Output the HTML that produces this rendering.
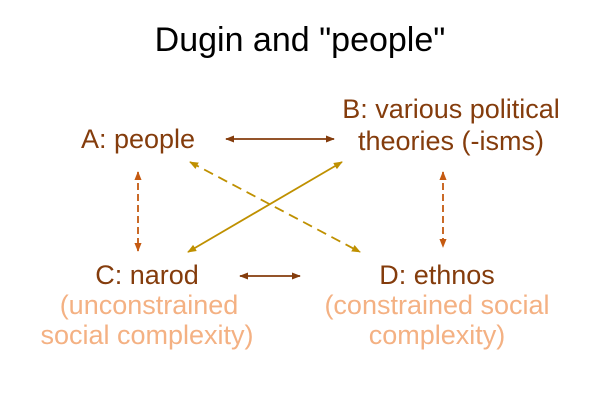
<!DOCTYPE html>
<html><head><style>
body{margin:0;background:#fff;}
svg{display:block;font-family:"Liberation Sans",Arial,sans-serif;}
</style></head><body>
<svg width="600" height="400" viewBox="0 0 600 400">
<defs>
<marker id="mb" viewBox="0 0 10 10" refX="9" refY="5" markerWidth="5" markerHeight="5" orient="auto-start-reverse"><path d="M0,1 L10,5 L0,9 z" fill="#843c0c"/></marker>
<marker id="mo" viewBox="0 0 10 10" refX="9" refY="5" markerWidth="5" markerHeight="5" orient="auto-start-reverse"><path d="M0,1 L10,5 L0,9 z" fill="#c55a11"/></marker>
<marker id="my" viewBox="0 0 10 10" refX="9" refY="5" markerWidth="5" markerHeight="5" orient="auto-start-reverse"><path d="M0,1 L10,5 L0,9 z" fill="#bf9000"/></marker>
</defs>
<text x="300" y="51" font-size="34" text-anchor="middle" fill="#000">Dugin and "people"</text>
<g font-size="27" fill="#843c0c" text-anchor="middle">
<text x="138" y="148">A: people</text>
<text x="451" y="118">B: various political</text>
<text x="451" y="150">theories (-isms)</text>
<text x="147" y="284">C: narod</text>
<text x="437" y="284">D: ethnos</text>
</g>
<g font-size="27" fill="#f4b183" text-anchor="middle">
<text x="149" y="314">(unconstrained</text>
<text x="147" y="344">social complexity)</text>
<text x="437" y="314">(constrained social</text>
<text x="437" y="344">complexity)</text>
</g>
<g stroke-width="1.8" fill="none">
<line x1="226" y1="139" x2="334" y2="139" stroke="#843c0c" marker-start="url(#mb)" marker-end="url(#mb)"/>
<line x1="240" y1="276" x2="300" y2="276" stroke="#843c0c" marker-start="url(#mb)" marker-end="url(#mb)"/>
<line x1="138" y1="172" x2="138" y2="251" stroke="#c55a11" stroke-dasharray="7,4" marker-start="url(#mo)" marker-end="url(#mo)"/>
<line x1="443" y1="172" x2="443" y2="247" stroke="#c55a11" stroke-dasharray="7,4" marker-start="url(#mo)" marker-end="url(#mo)"/>
<line x1="188" y1="252" x2="342" y2="162" stroke="#bf9000" marker-start="url(#my)" marker-end="url(#my)"/>
<line x1="190" y1="162" x2="360" y2="252" stroke="#bf9000" stroke-dasharray="10,6" marker-start="url(#my)" marker-end="url(#my)"/>
</g>
</svg>
</body></html>
